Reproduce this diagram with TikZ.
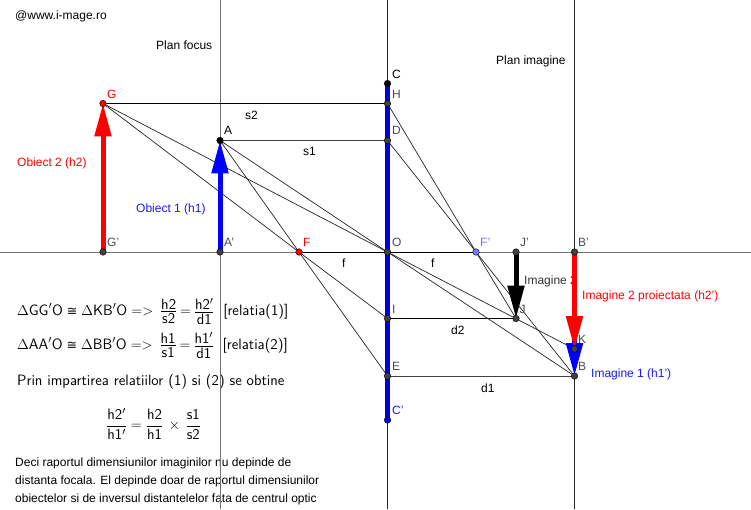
\documentclass[tikz,border=0pt]{standalone}
\usepackage{fontspec}
\usepackage{amsmath,amssymb}
\setmainfont{Liberation Sans}
\newfontfamily\dvfont{DejaVu Sans}
\usetikzlibrary{arrows.meta}
\definecolor{axisgray}{gray}{0.45}
\definecolor{labgray}{gray}{0.3}
\definecolor{vblue}{rgb}{0,0,0.85}
\definecolor{tblue}{rgb}{0.1,0.1,1}
\definecolor{fblue}{rgb}{0.48,0.48,1}
\tikzset{
  x=1pt,y=-1pt,
  pt/.style={circle,draw=black,line width=0.4pt,fill=#1,minimum size=6.6pt,inner sep=0pt},
  pt/.default={black!75},
  ray/.style={draw=black!85,line width=0.7pt},
  hray/.style={draw=black!75,line width=1pt},
  vec/.style={line width=5pt,-{Triangle[length=33pt,width=16pt]},shorten >=-0.2pt},
  lab/.style={inner sep=0pt,font=\fontsize{12pt}{14pt}\selectfont,anchor=west},
  glab/.style={lab,text=labgray},
  eq/.style={inner sep=0pt,font=\fontsize{15pt}{18pt}\sffamily,anchor=west},
  body/.style={inner sep=0pt,font=\fontsize{12pt}{18pt}\selectfont,anchor=north west,align=left}
}
\newcommand{\ms}[1]{\mathsf{#1}}
\newcommand{\congsym}{\mathrel{\hbox{\dvfont\fontsize{12.5pt}{14pt}\selectfont\char"2245}}}
\newcommand{\cfr}[2]{\mathord{\vcenter{\offinterlineskip\halign{\hfil$##$\hfil\cr\vphantom{h}#1\cr\noalign{\kern1.6pt\hrule height 0.5pt\kern1.8pt}\vphantom{h}#2\cr}}}}
\begin{document}
\begin{tikzpicture}
\useasboundingbox (0,0) rectangle (751,509);
\fill[white] (0,0) rectangle (751,509);
% equations and text lie under the lines
\node[eq] (e1) at (17,311.5) {$\Delta\ms{GG'O}\congsym\Delta\ms{KB'O}=>\;\cfr{\ms{h2}}{\ms{s2}}\;{=}\;\cfr{\ms{h2'}}{\ms{d1}}$\ \ [relatia(1)]};
\node[eq] (e2) at (17,345.5) {$\Delta\ms{AA'O}\congsym\Delta\ms{BB'O}=>\;\cfr{\ms{h1}}{\ms{s1}}\;{=}\;\cfr{\ms{h1'}}{\ms{d1}}$\ \ [relatia(2)]};
\node[eq] (e3) at (17,382) {Prin impartirea relatiilor (1) si (2) se obtine};
\node[eq] (e4) at (106,424) {$\dfrac{\ms{h2'}}{\ms{h1'}}=\dfrac{\ms{h2}}{\ms{h1}}\,\times\,\dfrac{\ms{s1}}{\ms{s2}}$};
\node[body] (txt) at (15,458) {Deci raportul dimensiunilor imaginilor nu depinde de\\distanta focala. El depinde doar de raportul dimensiunilor\\obiectelor si de inversul distantelelor fata de centrul optic};
% named anchors
\coordinate (axL) at (0,252);
\coordinate (axR) at (751,252);
\coordinate (pfT) at (220,0);
\coordinate (pfB) at (220,509);
\coordinate (lnT) at (387.5,0);
\coordinate (lnB) at (387.5,509);
\coordinate (piT) at (574.5,0);
\coordinate (piB) at (574.5,509);
% main lines
\draw[axisgray,line width=1pt] (axL) -- (axR);
\draw[axisgray,line width=1pt] (pfT) -- (pfB);
\draw[black!85,line width=0.8pt] (lnT) -- (lnB);
\draw[black!85,line width=0.8pt] (piT) -- (piB);
% points
\coordinate (pG) at (103,103.5);
\coordinate (pGp) at (103,252);
\coordinate (pA) at (220,140.5);
\coordinate (pAp) at (220,252);
\coordinate (pF) at (299,252);
\coordinate (pO) at (387.5,252);
\coordinate (pFp) at (476,252);
\coordinate (pJp) at (516,252);
\coordinate (pJ) at (516,318.5);
\coordinate (pBp) at (574.5,252);
\coordinate (pB) at (574.5,376);
\coordinate (pK) at (574.5,349);
\coordinate (pC) at (387.5,83.5);
\coordinate (pCp) at (387.5,420);
\coordinate (pH) at (387.5,103.5);
\coordinate (pD) at (387.5,140.5);
\coordinate (pI) at (387.5,318.5);
\coordinate (pE) at (387.5,376);
% lens
\draw[vblue,line width=5pt] (pC) -- (pCp);
% rays
\draw[black,line width=1pt] (pF) -- (pFp);
\draw[hray,black] (pG) -- (pH);
\draw[hray] (pA) -- (pD);
\draw[hray,black] (pI) -- (pJ);
\draw[hray] (pE) -- (pB);
\draw[ray] (pG) -- (pF) -- (pI);
\draw[ray] (pG) -- (pO) -- (pK);
\draw[ray] (pA) -- (pF) -- (pE);
\draw[ray] (pA) -- (pO) -- (pB);
\draw[ray] (pH) -- (pFp) -- (pJ);
\draw[ray] (pD) -- (pFp) -- (pB);
% label under the image arrows
\node[lab,text=black!80] (im2) at (524,281) {Imagine 2};
% vectors
\draw[vec,color=red] (pGp) -- (pG);
\draw[vec,color=blue] (pAp) -- (pA);
\draw[vec,color=blue] (pBp) -- (pB);
\draw[vec,color=black] (pJp) -- (pJ);
\draw[vec,color=red] (pBp) -- (pK);
% point markers
\node[pt=red] (G) at (pG) {};
\node[pt] (Gp) at (pGp) {};
\node[pt=black] (A) at (pA) {};
\node[pt] (Ap) at (pAp) {};
\node[pt=red] (F) at (pF) {};
\node[pt] (O) at (pO) {};
\node[pt=fblue] (Fp) at (pFp) {};
\node[pt] (Jp) at (pJp) {};
\node[pt] (J) at (pJ) {};
\node[pt] (Bp) at (pBp) {};
\node[pt] (B) at (pB) {};
\node[pt] (K) at (pK) {};
\node[pt=black] (C) at (pC) {};
\node[pt=blue] (Cp) at (pCp) {};
\node[pt] (H) at (pH) {};
\node[pt] (D) at (pD) {};
\node[pt] (I) at (pI) {};
\node[pt] (E) at (pE) {};
% point labels
\node[lab,text=red] (tG) at (107,94) {G};
\node[glab] (tGp) at (107,242) {G'};
\node[lab,text=black] (tA) at (224,130.5) {A};
\node[glab] (tAp) at (224,242) {A'};
\node[lab,text=red] (tF) at (303,242) {F};
\node[glab] (tO) at (392,242) {O};
\node[lab,text=fblue] (tFp) at (480,242) {F'};
\node[glab] (tJp) at (520,242) {J'};
\node[glab] (tBp) at (578,242) {B'};
\node[glab] (tJ) at (519.5,309) {J};
\node[glab] (tK) at (578,339) {K};
\node[glab] (tB) at (578,366) {B};
\node[lab,text=black] (tC) at (392,74) {C};
\node[lab,text=tblue] (tCp) at (392,410) {C'};
\node[glab] (tH) at (392,94) {H};
\node[glab] (tD) at (392,130.5) {D};
\node[glab] (tI) at (392,309) {I};
\node[glab] (tE) at (392,366) {E};
% free labels
\node[lab] (www) at (15,16) {@www.i-mage.ro};
\node[lab] (pfoc) at (156,45.5) {Plan focus};
\node[lab] (pimg) at (496,61.5) {Plan imagine};
\node[lab] (s2) at (245,115) {s2};
\node[lab] (s1) at (303,151.5) {s1};
\node[lab] (ff) at (342,263) {f};
\node[lab] (fg) at (431,263) {f};
\node[lab] (d2) at (451,330) {d2};
\node[lab] (d1) at (481,388) {d1};
\node[lab,text=red] (ob2) at (17,163) {Obiect 2 (h2)};
\node[lab,text=tblue] (ob1) at (136,209) {Obiect 1 (h1)};
\node[lab,text=red] (im2p) at (582,296) {Imagine 2 proiectata (h2')};
\node[lab,text=tblue] (im1) at (591,374) {Imagine 1 (h1')};
\end{tikzpicture}
\end{document}
